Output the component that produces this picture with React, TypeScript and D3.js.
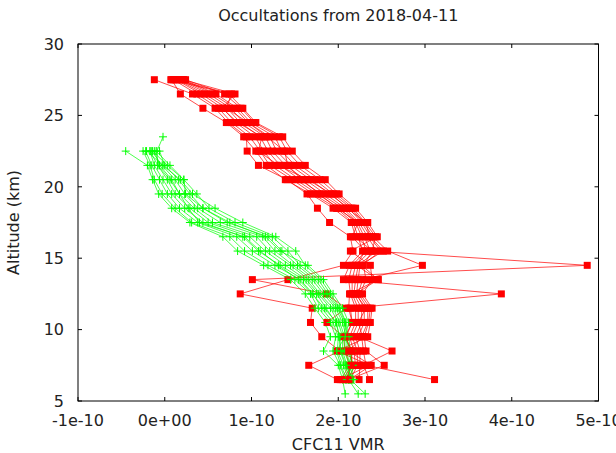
import React from "react";
import * as d3 from "d3";

// Chart text
const chartTitle = "Occultations from 2018-04-11";
const xLabel = "CFC11 VMR";
const yLabel = "Altitude (km)";

// Axis ticks
const xTickValues = [-1e-10, 0, 1e-10, 2e-10, 3e-10, 4e-10, 5e-10];
const xTickLabels = ["-1e-10", "0e+00", "1e-10", "2e-10", "3e-10", "4e-10", "5e-10"];
const yTickValues = [5, 10, 15, 20, 25, 30];

// Retrieval altitudes (km)
const redAltitudes = [27.5, 26.5, 25.5, 24.5, 23.5, 22.5, 21.5, 20.5, 19.5, 18.5, 17.5, 16.5, 15.5, 14.5, 13.5, 12.5, 11.5, 10.5, 9.5, 8.5, 7.5, 6.5];
const greenAltitudes = [23.5, 22.5, 21.5, 20.5, 19.5, 18.5, 17.5, 16.5, 15.5, 14.5, 13.5, 12.5, 11.5, 10.5, 9.5, 8.5, 7.5, 6.5, 5.5];

// CFC11 VMR profiles, in units of 1e-10 (red series)
const red01 = [-0.12, 0.32, 0.58, 0.73, 0.94, 0.95, 1.08, 1.41, 1.64, 1.76, 1.90, 2.14, 2.17, 2.06, 1.42, 0.87, 1.70, 1.68, 1.81, 2.02, 1.66, 1.99];
const red02 = [0.08, 0.18, 0.44, 0.71, 0.91, 1.05, 1.17, 1.39, 1.68, 1.94, 2.15, 2.20, 2.39, 4.87, 1.01, 1.86, 2.09, 1.87, 2.06, 2.08, 2.13, 2.03];
const red03 = [0.10, 0.37, 0.62, 0.77, 0.98, 1.10, 1.21, 1.47, 1.71, 1.98, 2.17, 2.23, 2.28, 2.13, 2.06, 3.88, 2.14, 2.16, 2.09, 2.14, 2.16, 2.05];
const red04 = [0.13, 0.42, 0.67, 0.82, 1.04, 1.14, 1.27, 1.51, 1.76, 2.01, 2.20, 2.27, 2.32, 2.16, 2.12, 2.14, 2.20, 2.20, 2.13, 2.18, 2.20, 2.10];
const red05 = [0.15, 0.46, 0.72, 0.87, 1.10, 1.19, 1.33, 1.56, 1.80, 2.05, 2.22, 2.30, 2.37, 2.20, 2.16, 2.16, 2.23, 2.23, 2.16, 2.22, 2.22, 2.14];
const red06 = [0.17, 0.51, 0.76, 0.91, 1.16, 1.24, 1.39, 1.62, 1.85, 2.08, 2.24, 2.34, 2.44, 2.23, 2.20, 2.18, 2.27, 2.27, 2.20, 2.25, 2.25, 2.24];
const red07 = [0.20, 0.55, 0.81, 0.96, 1.21, 1.29, 1.45, 1.68, 1.90, 2.12, 2.27, 2.37, 2.52, 2.25, 2.23, 2.21, 2.30, 2.30, 2.23, 2.62, 2.29, 2.36];
const red08 = [0.22, 0.59, 0.84, 0.99, 1.27, 1.35, 1.50, 1.73, 1.94, 2.15, 2.29, 2.40, 2.57, 2.97, 2.28, 2.23, 2.34, 2.34, 2.27, 2.29, 2.32, 3.11];
const red09 = [0.24, 0.69, 0.88, 1.03, 1.32, 1.41, 1.56, 1.79, 1.98, 2.17, 2.31, 2.43, 2.39, 2.29, 2.32, 2.25, 2.37, 2.35, 2.30, 2.32, 2.53, 2.12];
const red10 = [0.07, 0.74, 0.90, 1.05, 1.36, 1.47, 1.62, 1.85, 2.01, 2.20, 2.34, 2.45, 2.14, 2.37, 2.39, 2.28, 2.39, 2.37, 2.34, 1.99, 2.36, 2.02];
const red11 = [0.12, 0.77, 0.71, 0.96, 1.18, 1.38, 1.42, 1.58, 1.78, 1.99, 2.23, 2.16, 2.31, 2.21, 2.46, 2.13, 2.12, 2.16, 2.08, 2.16, 2.15, 2.09];
const red12 = [0.21, 0.81, 0.66, 0.84, 1.12, 1.08, 1.31, 1.65, 1.92, 2.10, 2.32, 2.36, 2.49, 2.27, 2.46, 2.20, 2.32, 2.23, 2.28, 2.12, 2.38, 2.13];

// CFC11 VMR profiles, in units of 1e-10 (green series, null = no retrieval)
const green01 = [null, -0.45, -0.20, -0.14, -0.07, 0.08, 0.29, 0.67, 0.84, 1.14, 1.45, 1.62, 1.73, 1.85, 1.91, 1.83, 2.00, 2.05, 2.08];
const green02 = [null, -0.25, -0.17, -0.12, -0.03, 0.12, 0.31, 0.75, 0.92, 1.19, 1.50, 1.68, 1.77, 1.91, 1.97, 1.94, 2.02, 2.08, null];
const green03 = [null, -0.22, -0.15, -0.06, 0.03, 0.17, 0.38, 0.83, 1.01, 1.27, 1.56, 1.71, 1.81, 1.94, 2.00, 1.99, 2.06, 2.12, 2.23];
const green04 = [null, -0.17, -0.12, -0.02, 0.08, 0.23, 0.44, 0.90, 1.08, 1.33, 1.60, 1.75, 1.86, 1.97, 2.02, 2.02, 2.08, 2.14, 2.31];
const green05 = [-0.02, -0.09, -0.08, 0.03, 0.12, 0.29, 0.50, 0.98, 1.16, 1.39, 1.63, 1.77, 1.91, 2.00, 2.05, 2.05, 2.10, 2.16, null];
const green06 = [null, -0.12, -0.06, 0.08, 0.17, 0.34, 0.55, 1.06, 1.21, 1.45, 1.66, 1.79, 1.94, 2.02, 2.07, 2.07, 2.13, 2.18, null];
const green07 = [null, -0.15, -0.03, 0.12, 0.23, 0.38, 0.64, 1.13, 1.27, 1.48, 1.70, 1.83, 1.97, 2.05, 2.09, 2.09, 2.14, 2.12, null];
const green08 = [null, -0.06, 0.00, 0.16, 0.29, 0.44, 0.72, 1.19, 1.35, 1.53, 1.73, 1.86, 1.99, 2.07, 2.10, 2.12, 2.16, 2.09, null];
const green09 = [null, -0.14, 0.03, 0.22, 0.37, 0.51, 0.81, 1.24, 1.42, 1.56, 1.77, 1.88, 2.01, 2.08, 2.12, 2.14, 2.17, 2.15, null];
const green10 = [null, -0.21, -0.02, 0.18, 0.32, 0.58, 0.90, 1.28, 1.51, 1.62, 1.80, 1.91, 2.02, 2.09, 2.06, 2.16, 2.12, 2.13, null];
const green11 = [null, -0.10, 0.06, 0.22, 0.24, 0.44, 0.75, 1.16, 1.33, 1.65, 1.83, 1.94, 2.05, 2.12, 2.08, 1.98, 2.03, 2.10, null];
const green12 = [null, -0.17, -0.08, 0.06, 0.17, 0.27, 0.40, 0.92, 1.10, 1.31, 1.54, 1.70, 1.84, 1.98, 2.01, 2.03, 2.09, 2.17, null];

const VMR_UNIT = 1e-10;

const redProfiles = [red01, red02, red03, red04, red05, red06, red07, red08, red09, red10, red11, red12];
const greenProfiles = [green01, green02, green03, green04, green05, green06, green07, green08, green09, green10, green11, green12];

const WIDTH = 616;
const HEIGHT = 453;
const margin = { left: 78, right: 17.5, top: 44, bottom: 52 };
const FONT = "'DejaVu Sans', sans-serif";
const TEXT_COLOR = "#222";

type Pt = { v: number; alt: number };

function toPoints(values: (number | null)[], alts: number[]): Pt[] {
  const pts: Pt[] = [];
  values.forEach((v, i) => {
    if (v !== null && v !== undefined) pts.push({ v: v * VMR_UNIT, alt: alts[i] });
  });
  return pts;
}

export default function App() {
  const x = d3
    .scaleLinear()
    .domain([-1e-10, 5e-10])
    .range([margin.left, WIDTH - margin.right]);
  const y = d3
    .scaleLinear()
    .domain([5, 30])
    .range([HEIGHT - margin.bottom, margin.top]);

  const line = d3
    .line<Pt>()
    .x((d) => x(d.v))
    .y((d) => y(d.alt));

  const x0 = margin.left;
  const x1 = WIDTH - margin.right;
  const y0 = margin.top;
  const y1 = HEIGHT - margin.bottom;
  const tick = 4;

  const series: { color: string; kind: "square" | "plus"; pts: Pt[] }[] = [];
  const n = Math.max(redProfiles.length, greenProfiles.length);
  for (let i = 0; i < n; i++) {
    if (redProfiles[i]) series.push({ color: "#ff0000", kind: "square", pts: toPoints(redProfiles[i], redAltitudes) });
    if (greenProfiles[i]) series.push({ color: "#00ff00", kind: "plus", pts: toPoints(greenProfiles[i], greenAltitudes) });
  }

  return (
    <svg
      width={WIDTH}
      height={HEIGHT}
      style={{ position: "absolute", left: 0, top: 0, display: "block", background: "#fff" }}
      fontFamily={FONT}
    >
      <rect x={0} y={0} width={WIDTH} height={HEIGHT} fill="#fff" />
      <defs>
        <clipPath id="plot-clip">
          <rect x={x0} y={y0} width={x1 - x0} height={y1 - y0} />
        </clipPath>
      </defs>

      {/* title and axis labels */}
      <text x={(x0 + x1) / 2} y={21} textAnchor="middle" fontSize={16} fill={TEXT_COLOR}>
        {chartTitle}
      </text>
      <text x={(x0 + x1) / 2} y={450} textAnchor="middle" fontSize={16} fill={TEXT_COLOR}>
        {xLabel}
      </text>
      <text
        transform={`translate(19,${(y0 + y1) / 2}) rotate(-90)`}
        textAnchor="middle"
        fontSize={16}
        fill={TEXT_COLOR}
      >
        {yLabel}
      </text>

      {/* x ticks (bottom + mirrored top) */}
      {xTickValues.map((t, i) => (
        <g key={`xt${i}`}>
          <line x1={x(t)} x2={x(t)} y1={y1} y2={y1 - tick} stroke="#000" strokeWidth={1} />
          <line x1={x(t)} x2={x(t)} y1={y0} y2={y0 + tick} stroke="#000" strokeWidth={1} />
          <text x={x(t)} y={426} textAnchor="middle" fontSize={16} fill={TEXT_COLOR}>
            {xTickLabels[i]}
          </text>
        </g>
      ))}

      {/* y ticks (left + mirrored right) */}
      {yTickValues.map((t, i) => (
        <g key={`yt${i}`}>
          <line x1={x0} x2={x0 + tick} y1={y(t)} y2={y(t)} stroke="#000" strokeWidth={1} />
          <line x1={x1} x2={x1 - tick} y1={y(t)} y2={y(t)} stroke="#000" strokeWidth={1} />
          <text x={64} y={y(t)} dy="0.36em" textAnchor="end" fontSize={16} fill={TEXT_COLOR}>
            {t}
          </text>
        </g>
      ))}

      {/* profiles */}
      <g clipPath="url(#plot-clip)">
        {series.map((s, i) => (
          <g key={`s${i}`}>
            <path d={line(s.pts) || ""} fill="none" stroke={s.color} strokeWidth={1} strokeOpacity={0.7} />
            {s.pts.map((p, j) =>
              s.kind === "square" ? (
                <rect key={j} x={x(p.v) - 3.5} y={y(p.alt) - 3.5} width={7} height={7} fill={s.color} />
              ) : (
                <path
                  key={j}
                  d={`M${x(p.v) - 4},${y(p.alt)}H${x(p.v) + 4}M${x(p.v)},${y(p.alt) - 4}V${y(p.alt) + 4}`}
                  stroke={s.color}
                  strokeWidth={1}
                  fill="none"
                />
              )
            )}
          </g>
        ))}
      </g>

      {/* frame */}
      <rect x={x0} y={y0} width={x1 - x0} height={y1 - y0} fill="none" stroke="#000" strokeWidth={1} />
    </svg>
  );
}
